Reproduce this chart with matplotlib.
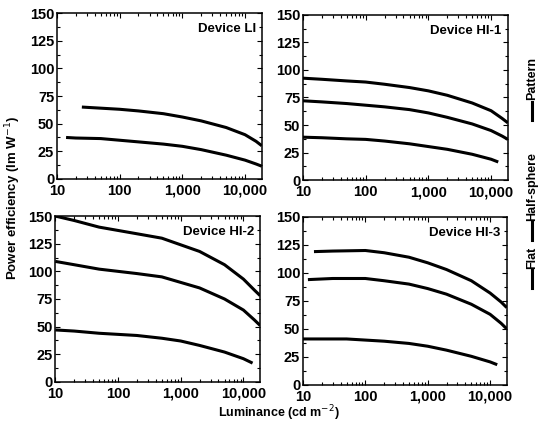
import matplotlib
matplotlib.use('Agg')
import matplotlib.pyplot as plt
from matplotlib.lines import Line2D
from matplotlib.ticker import FixedLocator, NullFormatter, MultipleLocator

plt.rcParams['font.family'] = ['Liberation Sans', 'DejaVu Sans']

# values: luminance (cd m-2) -> power efficiency (lm W-1)
li_flat_x = [14, 20, 50, 100, 200, 500, 1000, 2000, 5000, 10000, 15000, 18500]
li_flat_y = [37.5, 37, 36.5, 35, 33.5, 31.5, 29.5, 26.5, 21.5, 17, 13.5, 11.5]
li_half_x = [25, 50, 100, 200, 500, 1000, 2000, 5000, 10000, 15000, 18500]
li_half_y = [65, 64, 63, 61.5, 59, 56, 52.5, 46.5, 40, 34, 30]

hi1_flat_x = [10, 20, 50, 100, 200, 500, 1000, 2000, 5000, 10000, 13000]
hi1_flat_y = [39, 38.5, 37.5, 37, 35.5, 33, 30.5, 28, 23.5, 19, 16.5]
hi1_half_x = [10, 20, 50, 100, 200, 500, 1000, 2000, 5000, 10000, 15000, 18500]
hi1_half_y = [72, 71, 69.5, 68, 66.5, 64, 61, 57, 51, 45, 40, 37]
hi1_pat_x = [10, 20, 50, 100, 200, 500, 1000, 2000, 5000, 10000, 15000, 18500]
hi1_pat_y = [92.5, 91.5, 90, 89, 87, 84, 81, 77, 70, 63, 56, 52]

hi2_flat_x = [10, 20, 50, 100, 200, 500, 1000, 2000, 5000, 10000, 14000]
hi2_flat_y = [47, 46, 44, 43, 42, 39.5, 37, 33, 27, 21, 17]
hi2_half_x = [10, 20, 50, 100, 200, 500, 1000, 2000, 5000, 10000, 15000, 18500]
hi2_half_y = [109, 106, 102, 100, 98, 95, 90, 85, 75, 65, 56, 51]
hi2_pat_x = [10, 20, 50, 100, 200, 500, 1000, 2000, 5000, 10000, 15000, 18500]
hi2_pat_y = [150, 146, 140, 137, 134, 130, 124, 118, 106, 93, 83, 78]

hi3_flat_x = [10, 50, 100, 200, 500, 1000, 2000, 5000, 10000, 13000]
hi3_flat_y = [41, 41, 40, 39, 37, 34.5, 31, 25.5, 20.5, 18]
hi3_half_x = [12, 30, 100, 200, 500, 1000, 2000, 5000, 10000, 15000, 18500]
hi3_half_y = [94, 95, 95, 93, 90, 86, 81, 72, 63, 55, 50]
hi3_pat_x = [15, 30, 100, 200, 500, 1000, 2000, 5000, 10000, 15000, 18500]
hi3_pat_y = [119, 119.5, 120, 118, 114, 109, 103, 93, 82, 74, 69]

panels = [
    ("Device LI", [(li_flat_x, li_flat_y), (li_half_x, li_half_y)]),
    ("Device HI-1", [(hi1_flat_x, hi1_flat_y), (hi1_half_x, hi1_half_y), (hi1_pat_x, hi1_pat_y)]),
    ("Device HI-2", [(hi2_flat_x, hi2_flat_y), (hi2_half_x, hi2_half_y), (hi2_pat_x, hi2_pat_y)]),
    ("Device HI-3", [(hi3_flat_x, hi3_flat_y), (hi3_half_x, hi3_half_y), (hi3_pat_x, hi3_pat_y)]),
]
legend_names = ["Flat", "Half-sphere", "Pattern"]
x_ticks = [10, 100, 1000, 10000]
x_ticklabels = ["10", "100", "1,000", "10,000"]
y_ticks = [0, 25, 50, 75, 100, 125, 150]

fig = plt.figure(figsize=(5.42, 4.22), dpi=100)
boxes = [
    [0.105, 0.576, 0.378, 0.393],
    [0.559, 0.573, 0.378, 0.392],
    [0.102, 0.095, 0.378, 0.393],
    [0.559, 0.088, 0.376, 0.398],
]

minor_x = [m * 10 ** d for d in range(1, 5) for m in range(2, 10)]

for box, (title, series) in zip(boxes, panels):
    ax = fig.add_axes(box)
    for xs, ys in series:
        ax.plot(xs, ys, c="black", lw=2.2, solid_capstyle="butt", solid_joinstyle="round")
    ax.set_xscale("log")
    ax.set_xlim(10, 18500)
    ax.set_ylim(0, 150)
    ax.set_xticks(x_ticks)
    ax.set_xticklabels(x_ticklabels, fontsize=10.5, fontweight="bold")
    ax.xaxis.set_minor_locator(FixedLocator(minor_x))
    ax.xaxis.set_minor_formatter(NullFormatter())
    ax.set_yticks(y_ticks)
    ax.set_yticklabels([str(v) for v in y_ticks], fontsize=10.5, fontweight="bold")
    ax.yaxis.set_minor_locator(MultipleLocator(12.5))
    ax.tick_params(which="both", direction="in", top=True, right=True, width=0.8)
    ax.tick_params(which="major", length=3.5)
    ax.tick_params(axis="x", which="major", pad=3.5)
    ax.tick_params(axis="y", which="major", pad=2)
    ax.tick_params(which="minor", length=2)
    for s in ax.spines.values():
        s.set_linewidth(1.1)
    ax.text(0.97, 0.94, title, transform=ax.transAxes, ha="right", va="top",
            fontsize=9.5, fontweight="bold")

fig.text(0.024, 0.53, "Power efficiency (lm W$^{-1}$)", rotation=90,
         ha="center", va="center", fontsize=9.5, fontweight="bold")
fig.text(0.515, 0.02, "Luminance (cd m$^{-2}$)", ha="center", va="center",
         fontsize=9, fontweight="bold")

# rotated legend on the right side
leg_x = 0.981
leg_items = [(0.339, 0.390), (0.453, 0.559), (0.737, 0.813)]  # (line centre y, text centre y)
for name, (ly, ty) in zip(legend_names, leg_items):
    fig.add_artist(Line2D([leg_x, leg_x], [ly - 0.021, ly + 0.021], color="black",
                          lw=2.2, transform=fig.transFigure))
    fig.text(leg_x, ty, name, rotation=90, ha="center", va="center",
             fontsize=9, fontweight="bold")

plt.savefig("out.png", dpi=100)
